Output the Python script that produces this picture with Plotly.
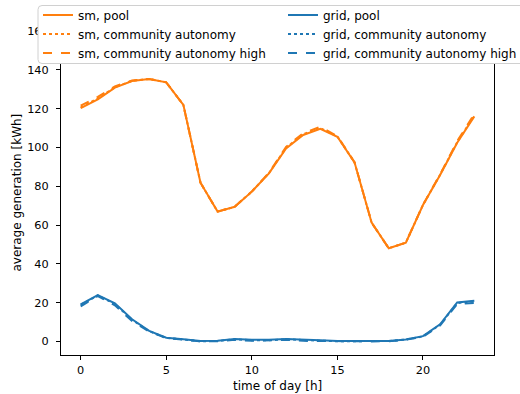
import plotly.graph_objects as go

# ---------------- data ----------------
hours = list(range(24))

sm_pool = [120.2, 124.8, 130.8, 134.2, 135.3, 133.5, 121.9, 81.8, 66.9, 69.4, 77.2, 86.6,
           99.5, 106.4, 109.6, 105.5, 92.3, 61.2, 48.0, 50.9, 70.3, 85.8, 102.4, 116.0]
sm_ca = [120.6, 125.2, 131.0, 134.3, 135.3, 133.5, 121.9, 81.8, 66.9, 69.4, 77.2, 86.7,
         99.8, 106.8, 110.0, 105.6, 92.3, 61.2, 48.0, 50.9, 70.3, 85.9, 102.7, 116.4]
sm_cah = [121.5, 126.0, 131.4, 134.5, 135.3, 133.5, 121.9, 81.8, 66.9, 69.4, 77.3, 86.9,
          100.3, 107.3, 110.6, 105.8, 92.4, 61.2, 48.0, 50.9, 70.4, 86.1, 103.2, 117.2]

grid_pool = [19.1, 23.9, 19.6, 11.4, 5.4, 1.9, 1.1, 0.2, 0.3, 1.3, 0.8, 0.8,
             1.3, 0.8, 0.6, 0.2, 0.1, 0.1, 0.2, 1.0, 2.7, 8.8, 20.1, 21.0]
grid_ca = [18.8, 23.7, 19.3, 11.1, 5.3, 1.8, 1.0, 0.1, 0.2, 1.1, 0.6, 0.6,
           1.1, 0.6, 0.4, 0.1, 0.1, 0.1, 0.2, 1.0, 2.6, 8.6, 19.8, 20.6]
grid_cah = [18.1, 23.4, 18.6, 10.5, 5.1, 1.7, 0.9, 0.0, 0.1, 0.8, 0.3, 0.4,
            0.8, 0.3, 0.2, 0.0, 0.0, 0.0, 0.1, 0.9, 2.4, 8.2, 19.3, 19.8]

x_ticks = [0, 5, 10, 15, 20]
y_ticks = [0, 20, 40, 60, 80, 100, 120, 140, 160]

ORANGE = "#ff7f0e"
BLUE = "#1f77b4"
FONT = "DejaVu Sans"
TICK_SIZE = 11.3
TITLE_SIZE = 12

# ---------------- layout geometry (pixels) ----------------
W, H = 520, 394
L, R, T, B = 61, 494, 30, 355  # plot area edges in px
pw, ph = R - L, B - T


def px(xp):
    return (xp - L) / pw


def py(yp):
    return (B - yp) / ph


fig = go.Figure()

series = [
    ("sm, pool", sm_pool, ORANGE, "solid", "legend"),
    ("sm, community autonomy", sm_ca, ORANGE, "dot", "legend"),
    ("sm, community autonomy high", sm_cah, ORANGE, "dash", "legend"),
    ("grid, pool", grid_pool, BLUE, "solid", "legend2"),
    ("grid, community autonomy", grid_ca, BLUE, "dot", "legend2"),
    ("grid, community autonomy high", grid_cah, BLUE, "dash", "legend2"),
]
for name, vals, col, dash, leg in series:
    fig.add_trace(go.Scatter(
        x=hours, y=vals, mode="lines", name=name,
        line=dict(color=col, width=2, dash=dash),
        legend=leg,
    ))

# legend frame (rounded rectangle, partially cut off at the right)
x0, x1 = px(38), px(535)
y0, y1 = py(5.5), py(63.5)
rx, ry = 4 / pw, 4 / ph
path = (f"M {x0+rx},{y0} L {x1-rx},{y0} Q {x1},{y0} {x1},{y0-ry} "
        f"L {x1},{y1+ry} Q {x1},{y1} {x1-rx},{y1} L {x0+rx},{y1} "
        f"Q {x0},{y1} {x0},{y1+ry} L {x0},{y0-ry} Q {x0},{y0} {x0+rx},{y0} Z")
fig.add_shape(type="path", path=path, xref="paper", yref="paper",
              fillcolor="white", line=dict(color="#d0d0d0", width=1), layer="above")

leg_common = dict(
    orientation="v", yanchor="top", xanchor="left",
    xref="container", yref="container",
    bgcolor="rgba(0,0,0,0)", borderwidth=0,
    font=dict(family=FONT, size=12, color="#000"),
    itemwidth=30, tracegroupgap=0,
)

fig.update_layout(
    width=W, height=H,
    margin=dict(l=L, r=W - R, t=T, b=H - B, autoexpand=False),
    paper_bgcolor="white", plot_bgcolor="white",
    font=dict(family=FONT, size=TICK_SIZE, color="#000"),
    showlegend=True,
    legend=dict(x=38 / W, y=1 - 0.5 / H, **leg_common),
    legend2=dict(x=283 / W, y=1 - 0.5 / H, **leg_common),
    xaxis=dict(
        range=[-1.15, 24.15], tickvals=x_ticks, ticktext=[str(v) for v in x_ticks],
        showgrid=False, zeroline=False, showline=True, linecolor="#000", linewidth=1,
        mirror=False, ticks="outside", ticklen=4, tickwidth=1, tickcolor="#000",
        ticklabelstandoff=0,
        tickfont=dict(family=FONT, size=TICK_SIZE, color="#000"),
    ),
    yaxis=dict(
        range=[-7, 160.5], tickvals=y_ticks, ticktext=[str(v) for v in y_ticks],
        showgrid=False, zeroline=False, showline=True, linecolor="#000", linewidth=1,
        mirror=True, ticks="outside", ticklen=4, tickwidth=1, tickcolor="#000",
        ticklabelstandoff=5,
        tickfont=dict(family=FONT, size=TICK_SIZE, color="#000"),
    ),
    annotations=[
        dict(text="time of day [h]", xref="paper", yref="paper",
             x=px(277.5), y=py(386), xanchor="center", yanchor="middle",
             showarrow=False, font=dict(family=FONT, size=TITLE_SIZE, color="#000")),
        dict(text="average generation [kWh]", xref="paper", yref="paper",
             x=px(16.5), y=py(193), xanchor="center", yanchor="middle", textangle=-90,
             showarrow=False, font=dict(family=FONT, size=TITLE_SIZE, color="#000")),
    ],
)

fig.write_html("out.html",
               config={"displayModeBar": False},
               post_script="document.body.style.margin='0';document.body.style.overflow='hidden';")
